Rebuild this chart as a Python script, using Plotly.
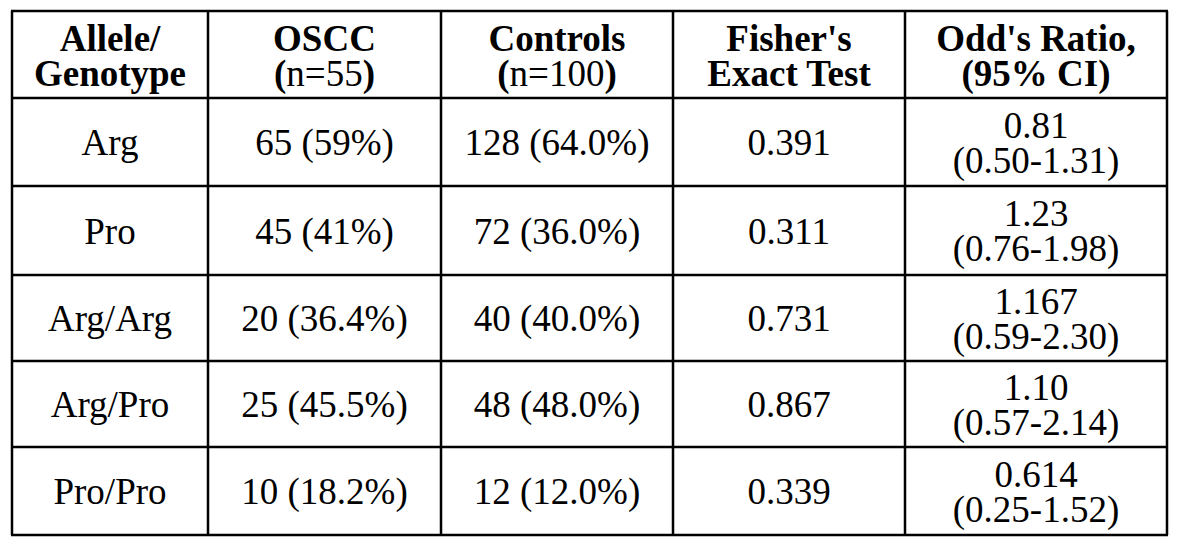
import plotly.graph_objects as go

# ---- data ----
header_line1 = ["Allele/", "OSCC", "Controls", "Fisher's", "Odd's Ratio,"]
header_line2 = ["Genotype", "<b>(</b>n=55<b>)</b>", "<b>(</b>n=100<b>)</b>", "Exact Test", "(95% CI)"]
header_line2_bold = [True, False, False, True, True]

row_labels = ["Arg", "Pro", "Arg/Arg", "Arg/Pro", "Pro/Pro"]
oscc = ["65 (59%)", "45 (41%)", "20 (36.4%)", "25 (45.5%)", "10 (18.2%)"]
controls = ["128 (64.0%)", "72 (36.0%)", "40 (40.0%)", "48 (48.0%)", "12 (12.0%)"]
fisher = ["0.391", "0.311", "0.731", "0.867", "0.339"]
odds_ratio = ["0.81", "1.23", "1.167", "1.10", "0.614"]
ci_95 = ["(0.50-1.31)", "(0.76-1.98)", "(0.59-2.30)", "(0.57-2.14)", "(0.25-1.52)"]

# ---- layout geometry (page pixel coordinates) ----
W, H = 1200, 549
PAGE_MARGIN = 8  # default HTML body margin
col_edges = [12, 208, 441, 673, 905, 1167]
row_edges = [11, 98, 186, 275, 361, 447, 535]
FONT = "Liberation Serif, Times New Roman, serif"
FS = 37
LINE_OFF = 17.5
TEXT_DY = 4  # baseline correction for vertical centring

col_c = [(col_edges[i] + col_edges[i + 1]) / 2 for i in range(5)]
row_c = [(row_edges[i] + row_edges[i + 1]) / 2 + TEXT_DY for i in range(6)]

xs, ys, ts = [], [], []
# header
for j in range(5):
    xs.append(col_c[j]); ys.append(row_c[0] - LINE_OFF + 1); ts.append("<b>" + header_line1[j] + "</b>")
    t2 = header_line2[j]
    if header_line2_bold[j]:
        t2 = "<b>" + t2 + "</b>"
    xs.append(col_c[j]); ys.append(row_c[0] + LINE_OFF + 1); ts.append(t2)

# body
for i in range(len(row_labels)):
    yc = row_c[i + 1]
    for j, col in enumerate([row_labels, oscc, controls, fisher]):
        xs.append(col_c[j]); ys.append(yc); ts.append(col[i])
    xs.append(col_c[4]); ys.append(yc - LINE_OFF); ts.append(odds_ratio[i])
    xs.append(col_c[4]); ys.append(yc + LINE_OFF); ts.append(ci_95[i])

fig = go.Figure(go.Scatter(
    x=xs, y=ys, text=ts, mode="text", textposition="middle center",
    textfont=dict(family=FONT, size=FS, color="#000000"),
    hoverinfo="skip", showlegend=False,
))

shapes = []
LW = 2.5
for y in row_edges:
    shapes.append(dict(type="line", xref="x", yref="y", x0=col_edges[0] - 1, x1=col_edges[-1] + 1,
                       y0=y, y1=y, line=dict(color="#000000", width=LW)))
for x in col_edges:
    shapes.append(dict(type="line", xref="x", yref="y", x0=x, x1=x,
                       y0=row_edges[0], y1=row_edges[-1], line=dict(color="#000000", width=LW)))

fig.update_layout(
    width=W - PAGE_MARGIN, height=H - PAGE_MARGIN, margin=dict(l=0, r=0, t=0, b=0),
    paper_bgcolor="white", plot_bgcolor="white",
    xaxis=dict(range=[PAGE_MARGIN, W], visible=False, fixedrange=True),
    yaxis=dict(range=[H, PAGE_MARGIN], visible=False, fixedrange=True),
    shapes=shapes,
)

fig.write_html("out.html", config={"displayModeBar": False})
